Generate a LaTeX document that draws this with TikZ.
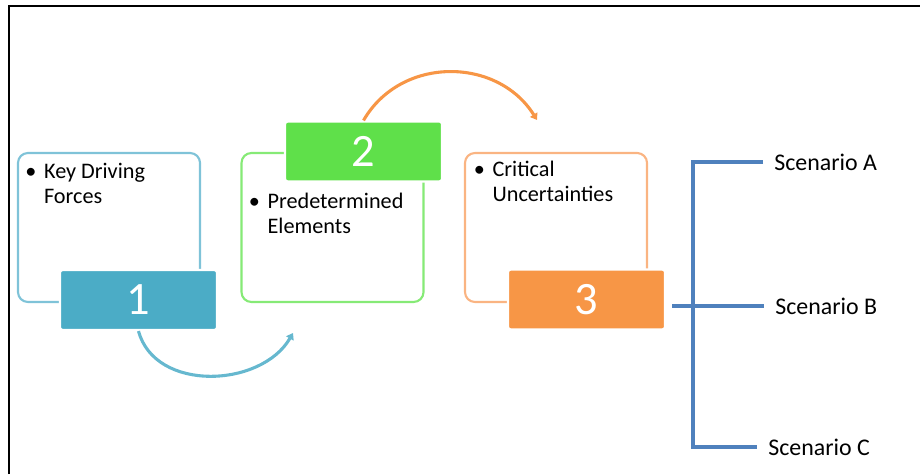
\documentclass[tikz,border=0pt]{standalone}
\usepackage{fontspec}
\setmainfont{Carlito}
\usepackage{tikz}
\usetikzlibrary{arrows.meta}

\definecolor{lightteal}{HTML}{7FC3D8}
\definecolor{teal1}{HTML}{4BACC6}
\definecolor{lightgreen}{HTML}{86EA76}
\definecolor{green2}{HTML}{5FE04A}
\definecolor{lightorange}{HTML}{FAB482}
\definecolor{orange3}{HTML}{F79646}
\definecolor{scenblue}{HTML}{4F81BD}

\begin{document}
\begin{tikzpicture}[x=0.025cm, y=0.025cm]
          % Define styles
          \tikzstyle{outline} = [draw, line width=1.5pt, rounded corners=0.25cm, minimum width=4.55cm, minimum height=3.725cm]
          \tikzstyle{numbox} = [draw=white, line width=1.5pt, rounded corners=2pt, minimum width=3.925cm, minimum height=1.5cm, text=white, font=\fontsize{33}{36}\selectfont]
          \tikzstyle{itemtext} = [anchor=base west, inner sep=0pt, font=\fontsize{15.8}{17.5}\selectfont]
          \tikzstyle{arc} = [line width=2.2pt, -{Triangle[length=4.5pt, width=6pt]}]
          \tikzstyle{scenario} = [anchor=west, inner xsep=0.275cm, font=\fontsize{17}{20}\selectfont]
          \tikzstyle{bracket} = [scenblue, line width=2.2pt]
          \newcommand{\bulletlines}[2]{\begin{tabular}[t]{@{}l@{\hspace{5.5pt}}l@{}}\textbullet & #1\\ & #2\end{tabular}}

          \useasboundingbox (0,0) rectangle (920,474);

          % Frame
          \draw[line width=1.6pt] (9,0) -- (9,468) -- (920,468);

          % Outline boxes
          \node[outline, draw=lightteal]   (o1) at (109,246.5) {};
          \node[outline, draw=lightgreen]  (o2) at (332.5,246.5) {};
          \node[outline, draw=lightorange] (o3) at (556,246.5) {};

          % Bullet texts
          \node[itemtext] (t1) at (25,295) {\bulletlines{Key Driving}{Forces}};
          \node[itemtext] (t2) at (248.5,265) {\bulletlines{Predetermined}{Elements}};
          \node[itemtext] (t3) at (473.5,297) {\bulletlines{Critical}{Uncertainties}};

          % Number boxes
          \node[numbox, fill=teal1]   (n1) at (138.5,174) {1};
          \node[numbox, fill=green2]  (n2) at (363.5,322.5) {2};
          \node[numbox, fill=orange3] (n3) at (586.5,174.5) {3};

          % Arcs
          \coordinate (c12) at (293,141);
          \coordinate (c23) at (537,354);
          \draw[arc, teal1!85!white] (n1.south) to[out=-75, in=-120, looseness=1.05] (c12);
          \draw[arc, orange3] (n2.north) to[out=60, in=122, looseness=1.1] (c23);

          % Scenarios
          \node[scenario] (sA) at (763,312) {Scenario A};
          \node[scenario] (sB) at (764,168) {Scenario B};
          \node[scenario] (sC) at (757,27) {Scenario C};

          \coordinate (spine) at (693,0);
          \draw[bracket] (sA.west) -- (sA.west -| spine) -- (sC.west -| spine) -- (sC.west);
          \draw[bracket, shorten <=0.15cm] (n3.east |- sB.west) -- (sB.west);

     \end{tikzpicture}
\end{document}
